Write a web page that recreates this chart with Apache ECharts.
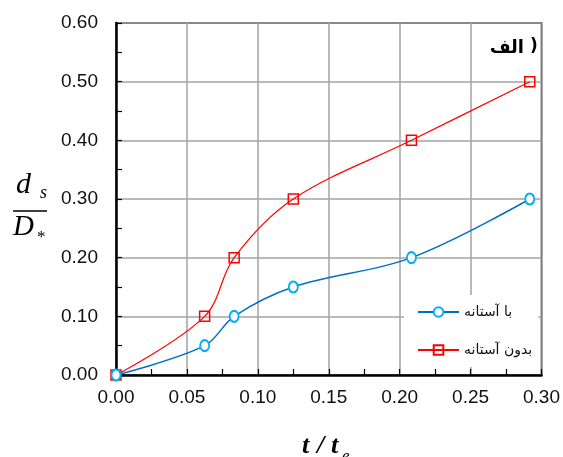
<!DOCTYPE html>
<html>
<head>
<meta charset="utf-8">
<script src="https://cdn.jsdelivr.net/npm/echarts@6/dist/echarts.min.js"></script>
<style>
  html, body { margin: 0; padding: 0; background: #fff; }
  #chart { width: 563px; height: 457px; }
</style>
</head>
<body>
<div id="chart"></div>
<script>
// Relative time t / t_e
var timeRatio = [0, 0.0625, 0.0833, 0.125, 0.2083, 0.2917];
// Relative scour depth d_s / D_* for each case
var withThreshold = [0, 0.05, 0.10, 0.15, 0.20, 0.30];
var withoutThreshold = [0, 0.10, 0.20, 0.30, 0.40, 0.50];
var seriesNames = ['با آستانه', 'بدون آستانه'];
var panelTitle = 'الف';

function pairs(xs, ys) {
  return xs.map(function (x, i) { return [x, ys[i]]; });
}

var tickFont = '"Liberation Sans", Arial, sans-serif';
var mathFont = '"Liberation Serif", "Times New Roman", serif';
var nameFont = 'italic bold 26px ' + mathFont;

var chart = echarts.init(document.getElementById('chart'), null, { renderer: 'canvas' });

chart.setOption({
  animation: false,
  backgroundColor: '#ffffff',
  grid: {
    left: 116, right: 21, top: 23, bottom: 82,
    show: true, borderColor: '#000', borderWidth: 1.5, backgroundColor: 'transparent'
  },
  xAxis: {
    type: 'value', min: 0, max: 0.30, interval: 0.05,
    axisLine: { show: true, onZero: false, lineStyle: { color: '#000', width: 2.5 } },
    axisTick: { show: true, inside: true, length: 6, lineStyle: { color: '#000', width: 1.2 } },
    minorTick: { show: true, splitNumber: 2, length: 6, lineStyle: { color: '#000', width: 1.2 } },
    splitLine: { show: true, lineStyle: { color: '#a3a3a3', width: 1.5 } },
    axisLabel: {
      margin: 13, color: '#111', fontSize: 19, fontFamily: tickFont,
      formatter: function (v) { return v.toFixed(2); }
    }
  },
  yAxis: {
    type: 'value', min: 0, max: 0.60, interval: 0.10,
    axisLine: { show: true, onZero: false, lineStyle: { color: '#000', width: 2.5 } },
    axisTick: { show: true, inside: true, length: 6, lineStyle: { color: '#000', width: 1.2 } },
    minorTick: { show: true, splitNumber: 2, length: 6, lineStyle: { color: '#000', width: 1.2 } },
    splitLine: { show: true, lineStyle: { color: '#a3a3a3', width: 1.5 } },
    axisLabel: {
      margin: 18, color: '#111', fontSize: 19, fontFamily: tickFont,
      formatter: function (v) { return v.toFixed(2); }
    }
  },
  legend: {
    orient: 'vertical',
    left: 404, top: 295,
    backgroundColor: '#ffffff',
    padding: [10, 6, 10, 13],
    itemWidth: 41, itemHeight: 12, itemGap: 24,
    textStyle: { fontSize: 14, color: '#111', fontFamily: '"DejaVu Sans", sans-serif' },
    data: seriesNames
  },
  series: [
    {
      name: seriesNames[0],
      type: 'line',
      smooth: 0.35,
      data: pairs(timeRatio, withThreshold),
      symbol: 'circle', symbolSize: [9, 11],
      lineStyle: { color: '#0070c0', width: 1.5 },
      itemStyle: { color: '#ffffff', borderColor: '#00b0f0', borderWidth: 2 },
      z: 3
    },
    {
      name: seriesNames[1],
      type: 'line',
      smooth: 0.35,
      data: pairs(timeRatio, withoutThreshold),
      symbol: 'rect', symbolSize: 10,
      lineStyle: { color: '#ff0000', width: 1.2 },
      itemStyle: { color: 'rgba(255,255,255,0)', borderColor: '#ff0000', borderWidth: 1.5 },
      z: 2
    }
  ],
  graphic: [
    // panel tag, the closing bracket sits to the right of the word
    {
      type: 'text', x: 524, y: 48,
      style: { text: panelTitle, font: 'bold 18px "DejaVu Sans", sans-serif', fill: '#000',
               textAlign: 'right', textVerticalAlign: 'middle' }
    },
    {
      type: 'text', x: 530, y: 47,
      style: { text: ')', font: 'bold 17px "DejaVu Sans", sans-serif', fill: '#000',
               textAlign: 'left', textVerticalAlign: 'middle' }
    },
    // y-axis name: d_s over D_*
    {
      type: 'text', x: 16, y: 170,
      style: { text: 'd', font: 'italic 30px ' + mathFont, fill: '#000' }
    },
    {
      type: 'text', x: 40, y: 184,
      style: { text: 's', font: 'italic 18px ' + mathFont, fill: '#000' }
    },
    {
      type: 'line', shape: { x1: 13, y1: 211, x2: 47, y2: 211 },
      style: { stroke: '#000', lineWidth: 1.3 }
    },
    {
      type: 'text', x: 13, y: 213,
      style: { text: 'D', font: 'italic 29px ' + mathFont, fill: '#000' }
    },
    {
      type: 'text', x: 37, y: 229,
      style: { text: '*', font: '17px ' + mathFont, fill: '#000' }
    },
    // x-axis name: t / t_e
    { type: 'text', x: 302, y: 433, style: { text: 't', font: nameFont, fill: '#000' } },
    { type: 'text', x: 317, y: 433, style: { text: '/', font: nameFont, fill: '#000' } },
    { type: 'text', x: 331, y: 433, style: { text: 't', font: nameFont, fill: '#000' } },
    {
      type: 'text', x: 342, y: 448,
      style: { text: 'e', font: 'italic 17px ' + mathFont, fill: '#000' }
    }
  ]
});
</script>
</body>
</html>
